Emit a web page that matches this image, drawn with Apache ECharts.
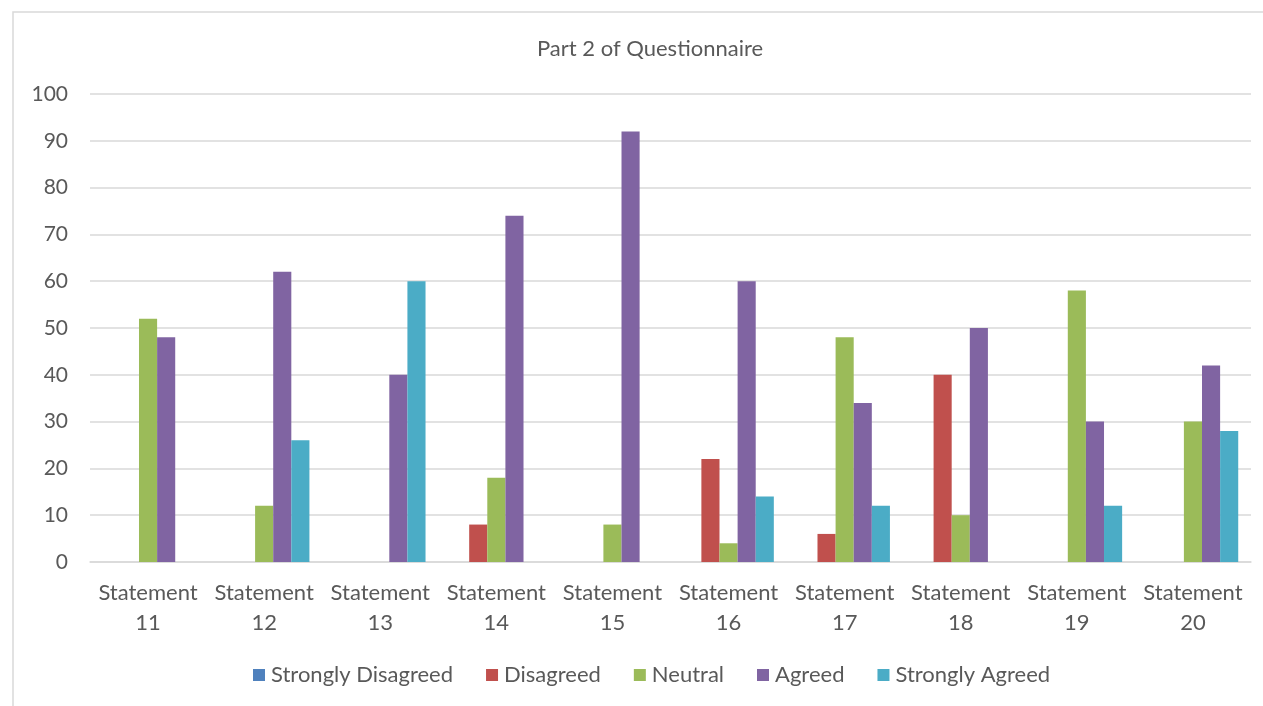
<!DOCTYPE html>
<html>
<head>
<meta charset="utf-8">
<script src="https://cdn.jsdelivr.net/npm/echarts@6/dist/echarts.min.js"></script>
<style>
  html, body { margin: 0; padding: 0; background: #ffffff; }
  #chart { width: 1263px; height: 706px; }
</style>
</head>
<body>
<div id="chart"></div>
<script>
// Survey responses for statements 11-20 (percent of respondents)
const categories = ['Statement\n11', 'Statement\n12', 'Statement\n13', 'Statement\n14', 'Statement\n15',
                    'Statement\n16', 'Statement\n17', 'Statement\n18', 'Statement\n19', 'Statement\n20'];
const stronglyDisagreed = [0, 0, 0, 0, 0, 0, 0, 0, 0, 0];
const disagreed         = [0, 0, 0, 8, 0, 22, 6, 40, 0, 0];
const neutral           = [52, 12, 0, 18, 8, 4, 48, 10, 58, 30];
const agreed            = [48, 62, 40, 74, 92, 60, 34, 50, 30, 42];
const stronglyAgreed    = [0, 26, 60, 0, 0, 14, 12, 0, 12, 28];

const seriesNames = ['Strongly Disagreed', 'Disagreed', 'Neutral', 'Agreed', 'Strongly Agreed'];
const seriesData = [stronglyDisagreed, disagreed, neutral, agreed, stronglyAgreed];
const colors = ['#4F81BD', '#C0504D', '#9BBB59', '#8064A2', '#4BACC6'];

const FONT = 'Lato, "Open Sans", sans-serif';
const TEXT = '#595959';

const chart = echarts.init(document.getElementById('chart'), null, { renderer: 'canvas' });

chart.setOption({
  animation: false,
  backgroundColor: '#ffffff',
  color: colors,
  title: {
    text: 'Part 2 of Questionnaire',
    left: 532,
    top: 33,
    textStyle: { fontFamily: FONT, fontSize: 22, fontWeight: 'normal', color: TEXT }
  },
  graphic: [{
    type: 'rect',
    shape: { x: 13, y: 12, width: 1300, height: 760 },
    style: { fill: 'none', stroke: '#d9d9d9', lineWidth: 1.5 },
    silent: true
  }],
  legend: {
    data: seriesNames,
    bottom: 15,
    left: 248,
    itemWidth: 12,
    itemHeight: 12,
    itemGap: 33,
    icon: 'rect',
    textStyle: { fontFamily: FONT, fontSize: 22, color: TEXT, padding: [0, 0, 0, 1] }
  },
  grid: { left: 90, right: 12, top: 94, bottom: 144, containLabel: false },
  xAxis: {
    type: 'category',
    data: categories,
    axisLine: { show: true, lineStyle: { color: '#d9d9d9', width: 1.5 } },
    axisTick: { show: false },
    axisLabel: {
      fontFamily: FONT, fontSize: 22, color: TEXT,
      lineHeight: 30, margin: 16, interval: 0
    }
  },
  yAxis: {
    type: 'value',
    min: 0,
    max: 100,
    interval: 10,
    axisLine: { show: false },
    axisTick: { show: false },
    splitLine: { lineStyle: { color: '#d9d9d9', width: 1.5 } },
    axisLabel: { fontFamily: FONT, fontSize: 21, color: TEXT, margin: 22 }
  },
  series: seriesNames.map((name, i) => ({
    name: name,
    type: 'bar',
    data: seriesData[i],
    barGap: '0%',
    barCategoryGap: '22%',
    itemStyle: { color: colors[i] }
  }))
});
</script>
</body>
</html>
